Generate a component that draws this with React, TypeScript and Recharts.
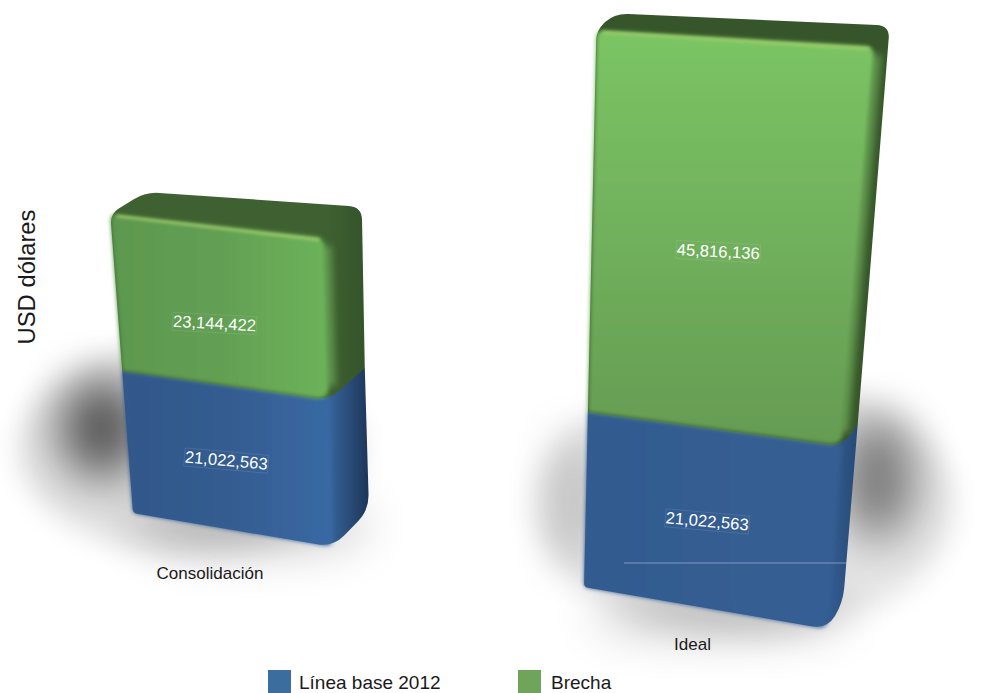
import React from 'react'
import { BarChart, Bar, XAxis, YAxis, Legend, Label } from 'recharts'

const categories = ['Consolidación', 'Ideal']
const lineaBase = [21022563, 21022563]
const brecha = [23144422, 45816136]
const seriesNames = ['Línea base 2012', 'Brecha']
const yTitle = 'USD dólares'
const axisMax = 70000000

const data = categories.map((name, i) => ({ name, lineaBase: lineaBase[i], brecha: brecha[i] }))

const FONT = '"Liberation Sans", Arial, sans-serif'

type Pt = [number, number]

// each bar was photographed from its own angle, so each has its own camera:
// where the plot's corners land for that bar (v=0 axis floor, v=1 axis max)
const cameras = [
  {
    bl: [133, 513] as Pt, br: [333, 547] as Pt, tl: [97, 39] as Pt, tr: [320, 57] as Pt,
    depthB: [36, -37] as Pt, depthT: [35, -20] as Pt, depthL: [35, -22] as Pt, depthR: [37, -31] as Pt,
    tickShift: [-23, 49] as Pt,
    shadows: [
      { cx: 190, cy: 450, rx: 172, ry: 104, o: 0.12, f: 'blurB' },
      { cx: 102, cy: 428, rx: 42, ry: 50, o: 0.62, f: 'blurA' },
      { cx: 250, cy: 525, rx: 120, ry: 28, o: 0.2, f: 'blurA' },
    ],
  },
  {
    bl: [584, 587] as Pt, br: [827, 629] as Pt, tl: [597, 4] as Pt, tr: [877, 19] as Pt,
    depthB: [16, -26] as Pt, depthT: [15, -10] as Pt, depthL: [18, -17] as Pt, depthR: [15, -21] as Pt,
    tickShift: [-13, 42] as Pt,
    shadows: [
      { cx: 745, cy: 505, rx: 210, ry: 130, o: 0.1, f: 'blurB' },
      { cx: 878, cy: 478, rx: 36, ry: 62, o: 0.48, f: 'blurA' },
      { cx: 572, cy: 500, rx: 18, ry: 70, o: 0.22, f: 'blurA' },
      { cx: 720, cy: 615, rx: 130, ry: 20, o: 0.22, f: 'blurA' },
    ],
    guide: [624, 563, 896],
  },
]

const labelShift: Record<string, Pt> = { lineaBase: [-3, 3], brecha: [-7, 18] }
const labelAngle: Record<string, number> = { lineaBase: 5, brecha: 3 }

const lerp = (a: Pt, b: Pt, t: number): Pt => [a[0] + (b[0] - a[0]) * t, a[1] + (b[1] - a[1]) * t]
const project = (cam: any, u: number, v: number): Pt => lerp(lerp(cam.bl, cam.tl, v), lerp(cam.br, cam.tr, v), u)
const add = (a: Pt, b: Pt): Pt => [a[0] + b[0], a[1] + b[1]]

// polygon with per-corner rounding
function roundPath(pts: Pt[], radii: number[]) {
  let d = ''
  pts.forEach((p, i) => {
    const prev = pts[(i + pts.length - 1) % pts.length]
    const next = pts[(i + 1) % pts.length]
    const r = radii[i]
    const dp = Math.hypot(prev[0] - p[0], prev[1] - p[1])
    const dn = Math.hypot(next[0] - p[0], next[1] - p[1])
    const a = lerp(p, prev, Math.min(r / dp, 0.5))
    const b = lerp(p, next, Math.min(r / dn, 0.5))
    d += `${i === 0 ? 'M' : 'L'}${a[0]},${a[1]} Q${p[0]},${p[1]} ${b[0]},${b[1]} `
  })
  return d + 'Z'
}

function Block(props: any) {
  const { y, height, background, index, dataKey, payload } = props
  const cam = cameras[index]
  const bottom = background.y + background.height
  const vEnd = (bottom - y) / background.height
  const vStart = (bottom - y - height) / background.height
  const isGreen = dataKey === 'brecha'

  const fl0 = project(cam, 0, vStart)
  const fr0 = project(cam, 1, vStart)
  const fl1 = project(cam, 0, vEnd)
  const fr1 = project(cam, 1, vEnd)
  const d0 = lerp(cam.depthB, cam.depthT, vStart)
  const d1 = lerp(cam.depthB, cam.depthT, vEnd)
  const side0 = add(fr0, d0)
  const side1 = add(fr1, d1)

  const mid = project(cam, 0.5, (vStart + vEnd) / 2)
  const shift = labelShift[dataKey]
  const lx = mid[0] + shift[0]
  const ly = mid[1] + shift[1]

  return (
    <g>
      {!isGreen && cam.shadows.map((s: any, i: number) => (
        <ellipse key={i} cx={s.cx} cy={s.cy} rx={s.rx} ry={s.ry} fill="#000" opacity={s.o} filter={`url(#${s.f})`} />
      ))}
      {isGreen ? (
        <>
          <path
            d={roundPath([fl0, fl1, add(fl1, cam.depthL), add(fr1, cam.depthR), side0, fr0], [0, 10, 14, 13, 0, 14])}
            fill={`url(#sideGreen${index})`}
          />
          {/* rounded edge between front and side */}
          <line
            x1={fr0[0] + 2} y1={fr0[1] - 14}
            x2={fr1[0] + 2} y2={fr1[1] + 8}
            stroke="#60994d" strokeWidth={9} opacity={0.95} filter="url(#soft3)"
          />
          <path
            d={roundPath([fl0, fl1, fr1, fr0], [0, 7, 10, 14])}
            fill={`url(#frontGreen${index})`}
            filter="url(#soft)"
          />
          <line
            x1={fl1[0] + 6} y1={fl1[1] + 2} x2={fr1[0] - 5} y2={fr1[1] + 2}
            stroke="#b2dc74" strokeWidth={3} opacity={0.7} filter="url(#soft2)"
          />
        </>
      ) : (
        <>
          <path
            d={roundPath([fl0, fl1, side1, side0, fr0], [4, 0, 0, 16, 16])}
            fill={`url(#sideBlue${index})`}
          />
          <path
            d={roundPath([fl0, fl1, fr1, fr0], [4, 0, 0, 10])}
            fill={`url(#frontBlue${index})`}
            filter="url(#soft)"
          />
          {cam.guide && (
            <line x1={cam.guide[0]} y1={cam.guide[1]} x2={cam.guide[2]} y2={cam.guide[1]} stroke="#d8dde4" strokeOpacity={0.6} strokeWidth={0.8} />
          )}
        </>
      )}
      <g transform={`rotate(${labelAngle[dataKey]} ${lx} ${ly})`}>
        <rect x={lx - 42} y={ly - 9} width={84} height={18} fill="none" stroke="#fff" strokeOpacity={0.2} strokeWidth={0.5} />
        <text x={lx} y={ly} textAnchor="middle" dominantBaseline="central" fill="#fff" fontSize={16.6} fontFamily={FONT}>
          {payload[dataKey].toLocaleString('en-US')}
        </text>
      </g>
    </g>
  )
}

function CategoryTick(props: any) {
  const cam = cameras[props.index]
  const p = add(project(cam, 0.5, 0), cam.tickShift)
  return (
    <text x={p[0]} y={p[1]} textAnchor="middle" fill="#1a1a1a" fontSize={17} fontFamily={FONT}>
      {props.payload.value}
    </text>
  )
}

function LegendRow(props: any) {
  const lefts = [268, 518]
  const items = [...(props.payload || [])].sort((a: any, b: any) => seriesNames.indexOf(a.value) - seriesNames.indexOf(b.value))
  return (
    <div style={{ position: 'relative', width: 985, height: 23, fontFamily: FONT, fontSize: 19, color: '#1a1a1a' }}>
      {items.map((item: any, i: number) => (
        <div key={item.value}>
          <span style={{ position: 'absolute', left: lefts[i], top: 0, width: 23, height: 23, background: item.color }} />
          <span style={{ position: 'absolute', left: lefts[i] + 31 + (i ? 2 : 0), top: 2, whiteSpace: 'nowrap' }}>{item.value}</span>
        </div>
      ))}
    </div>
  )
}

export default function App() {
  return (
    <div style={{ position: 'absolute', left: 0, top: 0, width: 985, height: 693, overflow: 'hidden', background: '#fff' }}>
      <BarChart width={985} height={693} data={data} margin={{ top: 0, right: 0, bottom: 0, left: 0 }} barCategoryGap={0}>
        <defs>
          <filter id="blurA" x="-150%" y="-150%" width="400%" height="400%"><feGaussianBlur stdDeviation="24" /></filter>
          <filter id="blurB" x="-50%" y="-50%" width="200%" height="200%"><feGaussianBlur stdDeviation="14" /></filter>
          <filter id="soft" x="-5%" y="-5%" width="110%" height="110%"><feGaussianBlur stdDeviation="2" /></filter>
          <filter id="soft2" filterUnits="userSpaceOnUse" x="0" y="0" width="985" height="693"><feGaussianBlur stdDeviation="1.8" /></filter>
          <filter id="soft3" filterUnits="userSpaceOnUse" x="0" y="0" width="985" height="693"><feGaussianBlur stdDeviation="3.5" /></filter>

          <linearGradient id="frontBlue0" x1="0" y1="0" x2="1" y2="0">
            <stop offset="0" stopColor="#32588a" />
            <stop offset="0.5" stopColor="#345c90" />
            <stop offset="1" stopColor="#3a69a4" />
          </linearGradient>
          <linearGradient id="frontBlue1" x1="0" y1="0" x2="1" y2="0">
            <stop offset="0" stopColor="#335c90" />
            <stop offset="1" stopColor="#355f94" />
          </linearGradient>
          <linearGradient id="sideBlue0" x1="0" y1="0" x2="1" y2="0">
            <stop offset="0" stopColor="#32588a" />
            <stop offset="0.82" stopColor="#3a69a4" />
            <stop offset="1" stopColor="#1d3658" />
          </linearGradient>
          <linearGradient id="sideBlue1" x1="0" y1="0" x2="1" y2="0">
            <stop offset="0" stopColor="#335c90" />
            <stop offset="0.9" stopColor="#335c90" />
            <stop offset="1" stopColor="#274a76" />
          </linearGradient>

          <linearGradient id="frontGreen0" x1="0" y1="0" x2="1" y2="0">
            <stop offset="0" stopColor="#5c984f" />
            <stop offset="0.5" stopColor="#639f53" />
            <stop offset="1" stopColor="#6cb35a" />
          </linearGradient>
          <linearGradient id="frontGreen1" x1="0" y1="0" x2="0" y2="1">
            <stop offset="0" stopColor="#7bc564" />
            <stop offset="0.5" stopColor="#71b05c" />
            <stop offset="1" stopColor="#659c53" />
          </linearGradient>
          <linearGradient id="sideGreen0" x1="0" y1="0" x2="1" y2="0">
            <stop offset="0" stopColor="#3f6131" />
            <stop offset="0.85" stopColor="#3f6131" />
            <stop offset="1" stopColor="#34542a" />
          </linearGradient>
          <linearGradient id="sideGreen1" x1="0" y1="0" x2="1" y2="0">
            <stop offset="0" stopColor="#37552a" />
            <stop offset="1" stopColor="#37552a" />
          </linearGradient>
        </defs>
        <XAxis dataKey="name" axisLine={false} tickLine={false} tick={<CategoryTick />} height={1} interval={0} />
        <YAxis domain={[0, axisMax]} width={1} tick={false} axisLine={false} tickLine={false}>
          <Label
            content={() => (
              <text
                x={35} y={277} transform="rotate(-90 35 277)" textAnchor="middle"
                fill="#1a1a1a" fontSize={23.8} fontFamily={FONT}
              >
                {yTitle}
              </text>
            )}
          />
        </YAxis>
        <Legend
          content={<LegendRow />}
          wrapperStyle={{ position: 'absolute', left: 0, top: 670, width: 985, height: 23 }}
        />
        <Bar dataKey="lineaBase" name={seriesNames[0]} stackId="a" fill="#3c6d9f" shape={<Block />} isAnimationActive={false} />
        <Bar dataKey="brecha" name={seriesNames[1]} stackId="a" fill="#6fa45b" shape={<Block />} isAnimationActive={false} />
      </BarChart>
    </div>
  )
}
